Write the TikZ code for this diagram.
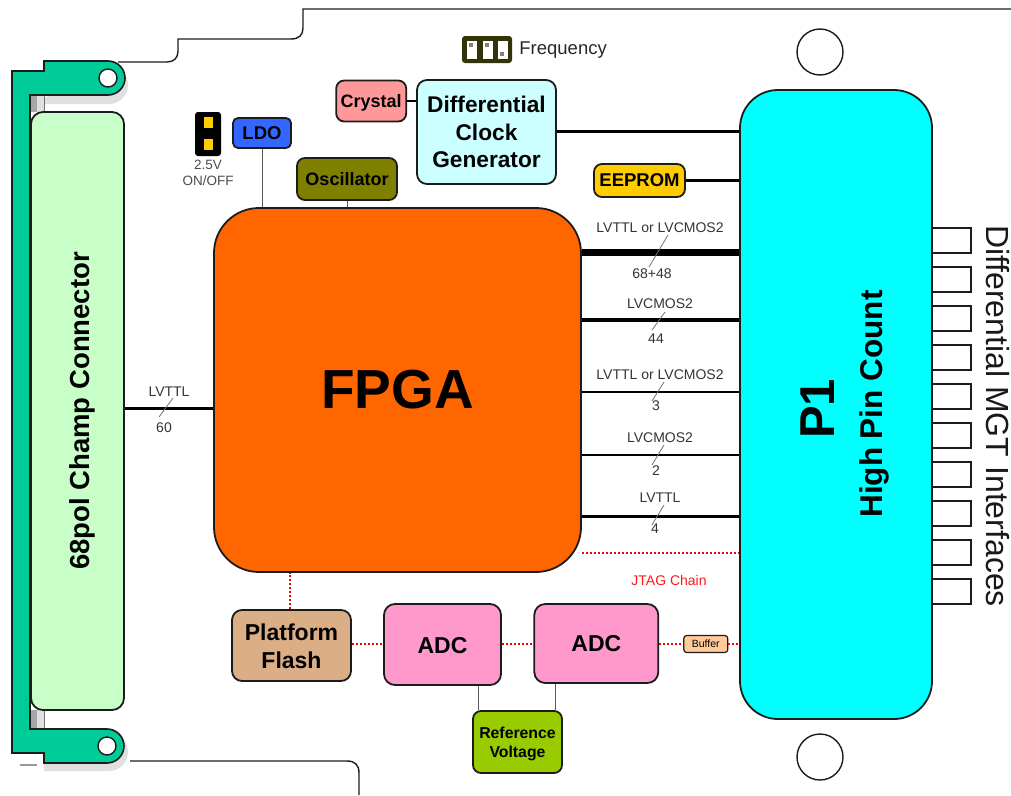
\documentclass[tikz,border=0pt]{standalone}
\usepackage{fontspec}
\setmainfont{Liberation Sans}
\usepackage{xcolor}
\usetikzlibrary{positioning,calc}

\definecolor{fpgacol}{HTML}{FF6600}
\definecolor{hpccol}{HTML}{00FFFF}
\definecolor{champcol}{HTML}{C8FFC8}
\definecolor{bracketcol}{HTML}{00CC99}
\definecolor{crystalcol}{HTML}{FF9999}
\definecolor{clockcol}{HTML}{CCFFFF}
\definecolor{eepromcol}{HTML}{FFCC00}
\definecolor{ldocol}{HTML}{3366FF}
\definecolor{osccol}{HTML}{808000}
\definecolor{flashcol}{HTML}{DCAE85}
\definecolor{adccol}{HTML}{FF99CC}
\definecolor{refcol}{HTML}{99CC00}
\definecolor{bufcol}{HTML}{FFCC99}
\definecolor{edgecol}{HTML}{1C1C1C}
\definecolor{jumpcol}{HTML}{33330A}

\newcommand{\fsz}[1]{\fontsize{#1}{#1}\selectfont}

\begin{document}
\begin{tikzpicture}[x=1pt, y=-1pt, every node/.style={inner sep=0pt}]
        \tikzset{
            blk/.style={draw=edgecol, line width=1.8pt, rounded corners=8pt, align=center, font=\bfseries},
            port/.style={draw=edgecol, line width=1.6pt, fill=white, minimum width=39pt, minimum height=25pt},
            hole/.style={circle, draw=edgecol, line width=1.4pt, fill=white},
            sig/.style={font=\fsz{14}, text=black!80},
            slashmk/.style={draw=black!55, line width=0.8pt},
            bus/.style={draw=black},
            jtag/.style={draw=red, line width=1.8pt, dash pattern=on 2pt off 2pt},
            thinlnk/.style={draw=black!65, line width=1pt},
            pad/.style={fill=eepromcol, minimum width=9pt, minimum height=11pt},
            slot/.style={fill=white, minimum width=10pt, minimum height=18pt},
            pin/.style={fill=black!50, minimum width=4pt, minimum height=4pt}
        }
        \useasboundingbox (0,0) rectangle (1011,795);
        % board outline
        \draw[edgecol, line width=1.4pt] (118,62) -- (167,62) .. controls (174,62) and (178,58) .. (178,51) -- (178,39) -- (291,39) .. controls (299,39) and (303,35) .. (303,28) -- (303,9) -- (1011,9);
        \draw[edgecol, line width=1.4pt] (130,761) -- (347,761) .. controls (355,761) and (359,765) .. (359,773) -- (359,795);
        % bracket shadow
        \fill[black!12] (109,66) arc[start angle=-90, end angle=90, radius=19] -- (44,104) -- (44,98) -- cycle;
        \fill[black!12] (109,733) arc[start angle=-90, end angle=90, radius=19] -- (44,771) -- (44,733) -- cycle;
        \fill[black!35] (30,94) rectangle (37,112);
        \fill[black!35] (30,710) rectangle (37,729);
        \fill[black!12] (37,94) rectangle (44,112);
        \fill[black!12] (37,710) rectangle (44,729);
        \draw[black!55, line width=0.8pt] (44,94) -- (44,112);
        \draw[black!55, line width=0.8pt] (44,710) -- (44,729);
        \draw[black!40, line width=1.2pt] (20,765) -- (37,765);
        % bracket
        \draw[edgecol, line width=1.6pt, fill=bracketcol] (12,71) -- (44,71) -- (44,61) -- (108,61) arc[start angle=-90, end angle=90, radius=17] -- (30,95) -- (30,729) -- (107,729) arc[start angle=-90, end angle=90, radius=17] -- (44,763) -- (44,753) -- (12,753) -- cycle;
        \node[hole, minimum size=18pt] (lughi) at (108,78) {};
        \node[hole, minimum size=18pt] (luglo) at (107,746) {};
        \node[hole, minimum size=46pt] (holehi) at (820,52) {};
        \node[hole, minimum size=46pt] (holelo) at (820,757) {};

        \node[blk, fill=fpgacol, minimum width=367pt, minimum height=364pt, rounded corners=45pt, font=\bfseries\fsz{55}] (fpga) at (397.5,390) {FPGA};
        \node[blk, fill=hpccol, minimum width=192pt, minimum height=629pt, rounded corners=38pt] (hpc) at (836,404.5) {};
        \node[rotate=90, font=\bfseries\fsz{49}] (hpcname) at (818,409) {P1};
        \node[rotate=90, font=\bfseries\fsz{31.5}] (hpcsub) at (874,404) {High Pin Count};
        \node[blk, fill=champcol, rotate=90, minimum width=598pt, minimum height=93pt, rounded corners=12pt, font=\bfseries\fsz{27.5}, text height=23.4pt, text depth=0pt] (champ) at (77.5,411) {68pol Champ Connector};
        \node[blk, fill=clockcol, minimum width=139pt, minimum height=104pt, font=\bfseries\fsz{22.7}, rounded corners=10pt] (clock) at (486.5,132) {Differential\\[5pt]Clock\\[5pt]Generator};
        \node[blk, fill=crystalcol, minimum width=70pt, minimum height=41pt, font=\bfseries\fsz{18}, text depth=0pt, left=9pt of clock.west, yshift=31pt] (crystal) {Crystal};
        \node[blk, fill=eepromcol, minimum width=91pt, minimum height=33pt, font=\bfseries\fsz{18.5}] (eeprom) at (639.5,180.5) {EEPROM};
        \node[blk, fill=ldocol, minimum width=58pt, minimum height=30pt, font=\bfseries\fsz{18.5}, rounded corners=5pt] (ldo) at (262,133) {LDO};
        \node[blk, fill=osccol, minimum width=100pt, minimum height=42pt, font=\bfseries\fsz{18}, text depth=0pt] (osc) at (347,179) {Oscillator};
        \node[blk, fill=flashcol, minimum width=119pt, minimum height=71pt, font=\bfseries\fsz{23}, rounded corners=10pt, text height=46.8pt] (flash) at (291.5,645.5) {Platform\\[5pt]Flash};
        \node[blk, fill=adccol, minimum width=117pt, minimum height=81pt, font=\bfseries\fsz{23}, rounded corners=11pt, text height=18pt, text depth=0pt] (adca) at (442.5,644.5) {ADC};
        \node[blk, fill=adccol, minimum width=124pt, minimum height=79pt, font=\bfseries\fsz{23}, rounded corners=11pt, right=31.5pt of adca, yshift=1pt] (adcb) {ADC};
        \node[blk, fill=bufcol, minimum width=44pt, minimum height=17pt, font=\fsz{10.5}, rounded corners=3pt, line width=1.2pt, right=24pt of adcb, yshift=-0.5pt] (buf) {Buffer};
        \node[blk, fill=refcol, minimum width=89pt, minimum height=62pt, font=\bfseries\fsz{15.8}, rounded corners=8pt, text height=35.3pt] (refv) at (517.5,742) {Reference\\[4pt]Voltage};

        % MGT ports
        \node[port] (mgta) at (951.5,240.5) {};
        \node[port, below=12.4pt of mgta] (mgtb) {};
        \node[port, below=12.4pt of mgtb] (mgtc) {};
        \node[port, below=12.4pt of mgtc] (mgtd) {};
        \node[port, below=12.4pt of mgtd] (mgte) {};
        \node[port, below=12.4pt of mgte] (mgtf) {};
        \node[port, below=12.4pt of mgtf] (mgtg) {};
        \node[port, below=12.4pt of mgtg] (mgth) {};
        \node[port, below=12.4pt of mgth] (mgti) {};
        \node[port, below=12.4pt of mgti] (mgtj) {};
        \node[rotate=-90, font=\fsz{32}, text=black!90] (mgtname) at (998,416) {Differential MGT Interfaces};

        % jumpers
        \node[fill=black, rounded corners=3pt, minimum width=26pt, minimum height=44pt] (pwrjmp) at (208,134) {};
        \node[pad] (pwrpadA) at (208.5,122.5) {};
        \node[pad] (pwrpadB) at (208.5,144) {};
        \node[sig, align=center, font=\fsz{13.5}, text=black!70, below=4pt of pwrjmp] (pwrname) {2.5V\\[2pt]ON/OFF};
        \node[fill=jumpcol, rounded corners=3pt, minimum width=50pt, minimum height=27pt] (freqjmp) at (487,49.5) {};
        \node[slot] (slota) at (472,50) {};
        \node[slot] (slotb) at (488,50) {};
        \node[slot] (slotc) at (502.5,50) {};
        \node[pin] (pina) at (471,45) {};
        \node[pin] (pinb) at (487,45) {};
        \node[pin] (pinc) at (502,54) {};
        \node[font=\fsz{18.5}, text=black!85, right=7pt of freqjmp, yshift=-1pt] (freqname) {Frequency};

        % buses
        \coordinate (busa) at (660,252);
        \coordinate (busb) at (660,320);
        \coordinate (busc) at (660,392);
        \coordinate (busd) at (660,455);
        \coordinate (buse) at (660,516);
        \coordinate (busf) at (660,553);
        \coordinate (busl) at (160,408);
        \draw[bus, line width=7pt] (fpga.east |- busa) -- (hpc.west |- busa);
        \draw[bus, line width=4pt] (fpga.east |- busb) -- (hpc.west |- busb);
        \draw[bus, line width=2pt] (fpga.east |- busc) -- (hpc.west |- busc);
        \draw[bus, line width=2pt] (fpga.east |- busd) -- (hpc.west |- busd);
        \draw[bus, line width=3pt] (fpga.east |- buse) -- (hpc.west |- buse);
        \draw[bus, line width=3pt] (champ.south |- busl) -- (fpga.west |- busl);
        \draw[bus, line width=3pt] (clock.east |- 0,131) -- (hpc.west |- 0,131);
        \draw[bus, line width=3pt] (eeprom) -- (hpc.west |- eeprom);
        \draw[bus, line width=2pt] (crystal) -- (clock.west |- crystal);
        \draw[thinlnk] (ldo.south) -- (ldo.south |- fpga.north);
        \draw[thinlnk] (osc.south) -- (osc.south |- fpga.north);
        \draw[thinlnk] (adca.south -| 478,0) -- (refv.north -| 478,0);
        \draw[thinlnk] (adcb.south -| 555,0) -- (refv.north -| 555,0);
        \draw[jtag] (fpga.east |- busf) -- (hpc.west |- busf);
        \draw[jtag] (flash.north -| 290,0) -- (fpga.south -| 290,0);
        \draw[jtag] (flash.east |- 0,644) -- (adca.west |- 0,644);
        \draw[jtag] (adca.east |- 0,644) -- (adcb.west |- 0,644);
        \draw[jtag] (adcb.east |- buf) -- (buf);
        \draw[jtag] (buf) -- (hpc.west |- buf);

        % bus labels
        \draw[slashmk] ($(busa)+(8,-17)$) -- ($(busa)+(-11,15)$);
        \draw[slashmk] ($(busb)+(5,-8)$) -- ($(busb)+(-8,10)$);
        \draw[slashmk] ($(busc)+(4,-10)$) -- ($(busc)+(-8,9)$);
        \draw[slashmk] ($(busd)+(4,-10)$) -- ($(busd)+(-8,10)$);
        \draw[slashmk] ($(buse)+(4,-11)$) -- ($(buse)+(-8,9)$);
        \draw[slashmk] ($(busl)+(13,-10)$) -- ($(busl)+(-1,9)$);
        \node[sig] (sigaT) at (660,228) {LVTTL or LVCMOS2};
        \node[sig] (sigaN) at (652,274) {68+48};
        \node[sig] (sigbT) at (660,304) {LVCMOS2};
        \node[sig] (sigbN) at (656,339) {44};
        \node[sig] (sigcT) at (660,375) {LVTTL or LVCMOS2};
        \node[sig] (sigcN) at (656,406) {3};
        \node[sig] (sigdT) at (660,438) {LVCMOS2};
        \node[sig] (sigdN) at (656,471) {2};
        \node[sig] (sigeT) at (660,498) {LVTTL};
        \node[sig] (sigeN) at (655,529) {4};
        \node[sig] (siglT) at (169,392) {LVTTL};
        \node[sig] (siglN) at (164,428) {60};
        \node[sig, text=red!90] (jtagname) at (669,580) {JTAG Chain};
    \end{tikzpicture}
\end{document}
